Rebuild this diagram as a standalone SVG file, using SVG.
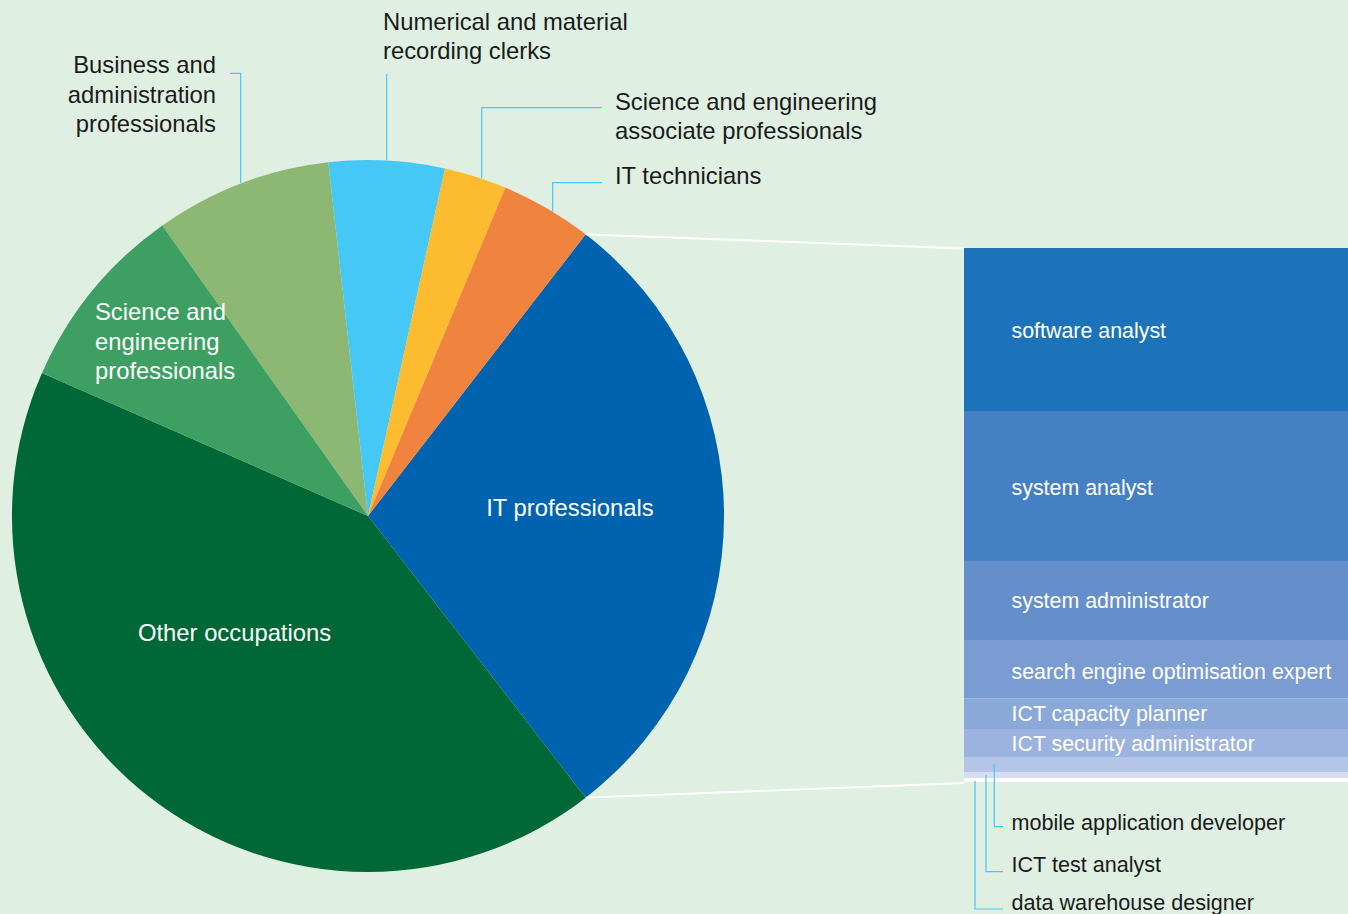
<svg xmlns="http://www.w3.org/2000/svg" width="1348" height="914" viewBox="0 0 1348 914">
<style>
.t{font-family:"Liberation Sans",Arial,sans-serif;font-size:23.8px;fill:#1a1a1a}
.w{fill:#ffffff}
.b{font-family:"Liberation Sans",Arial,sans-serif;font-size:21.4px;fill:#ffffff}
.k{font-family:"Liberation Sans",Arial,sans-serif;font-size:21.6px;fill:#1a1a1a}
.lead{fill:none;stroke:#45c8f5;stroke-width:1.2}
.conn{fill:none;stroke:#ffffff;stroke-width:1.8}
</style>
<rect width="1348" height="914" fill="#dff0e3"/>
<g id="pie">
<g id="it-professionals">
<path d="M368,516 L585.7,234.3 A356,356 0 0 1 585.7,797.7 Z" fill="#0063b0"/>
<text class="t w" x="570" y="516" text-anchor="middle">IT professionals</text>
</g>
<g id="other-occupations">
<path d="M368,516 L585.7,797.7 A356,356 0 0 1 42,372.9 Z" fill="#006837"/>
<text class="t w" x="138" y="641">Other occupations</text>
</g>
<g id="business-administration">
<path d="M368,516 L162.3,225.5 A356,356 0 0 1 328.3,162.2 Z" fill="#8db874"/>
<text class="t" x="216" y="73.3" text-anchor="end">Business and</text>
<text class="t" x="216" y="102.7" text-anchor="end">administration</text>
<text class="t" x="216" y="132" text-anchor="end">professionals</text>
</g>
<g id="science-engineering-professionals">
<path d="M368,516 L42,372.9 A356,356 0 0 1 162.3,225.5 Z" fill="#3da062"/>
<text class="t w" x="95" y="320">Science and</text>
<text class="t w" x="95" y="349.5">engineering</text>
<text class="t w" x="95" y="379">professionals</text>
</g>
<g id="numerical-clerks">
<path d="M368,516 L328.3,162.2 A356,356 0 0 1 445,168.4 Z" fill="#45c8f5"/>
<text class="t" x="383" y="29.5">Numerical and material</text>
<text class="t" x="383" y="59">recording clerks</text>
</g>
<g id="science-engineering-associate">
<path d="M368,516 L445,168.4 A356,356 0 0 1 505.4,187.6 Z" fill="#fdbb30"/>
<text class="t" x="615" y="110">Science and engineering</text>
<text class="t" x="615" y="139">associate professionals</text>
</g>
<g id="it-technicians">
<path d="M368,516 L505.4,187.6 A356,356 0 0 1 585.7,234.3 Z" fill="#f0843e"/>
<text class="t" x="615" y="184">IT technicians</text>
</g>
</g>
<g id="breakdown">
<g id="software-analyst">
<rect x="964" y="248" width="384" height="163" fill="#1c73ba"/>
<text class="b" x="1011.5" y="337.5">software analyst</text>
</g>
<g id="system-analyst">
<rect x="964" y="411" width="384" height="150" fill="#4580c4"/>
<text class="b" x="1011.5" y="495">system analyst</text>
</g>
<g id="system-administrator">
<rect x="964" y="561" width="384" height="79" fill="#648fcb"/>
<text class="b" x="1011.5" y="607.5">system administrator</text>
</g>
<g id="seo-expert">
<rect x="964" y="640" width="384" height="58.5" fill="#7a9cd2"/>
<text class="b" x="1011.5" y="678.5">search engine optimisation expert</text>
</g>
<g id="ict-capacity-planner">
<rect x="964" y="698.5" width="384" height="30.5" fill="#8aa8d8"/>
<text class="b" x="1011.5" y="720.5">ICT capacity planner</text>
</g>
<g id="ict-security-administrator">
<rect x="964" y="729" width="384" height="28" fill="#9bb3de"/>
<text class="b" x="1011.5" y="750.5">ICT security administrator</text>
</g>
<g id="mobile-application-developer">
<rect x="964" y="757" width="384" height="15" fill="#b4c5e7"/>
<text class="k" x="1011.5" y="830">mobile application developer</text>
</g>
<g id="ict-test-analyst">
<rect x="964" y="772" width="384" height="6" fill="#d6ddf1"/>
<text class="k" x="1011.5" y="872">ICT test analyst</text>
</g>
<g id="data-warehouse-designer">
<rect x="964" y="778" width="384" height="4" fill="#ffffff"/>
<text class="k" x="1011.5" y="910">data warehouse designer</text>
</g>
</g>
<g id="connectors">
<line class="conn" x1="585.7" y1="234.3" x2="964" y2="248.5"/>
<line class="conn" x1="585.7" y1="797.7" x2="964" y2="783"/>
<polyline class="lead" points="230,73.3 240.7,73.3 240.7,183"/>
<polyline class="lead" points="386.7,74 386.7,160"/>
<polyline class="lead" points="601.7,107.7 481.7,107.7 481.7,178"/>
<polyline class="lead" points="601.7,182.7 552.7,182.7 552.7,211.7"/>
<polyline class="lead" points="994.3,764 994.3,826.7 1003,826.7"/>
<polyline class="lead" points="986,775 986,871.7 1003,871.7"/>
<polyline class="lead" points="975,781 975,909 1003,909"/>
</g>
</svg>
